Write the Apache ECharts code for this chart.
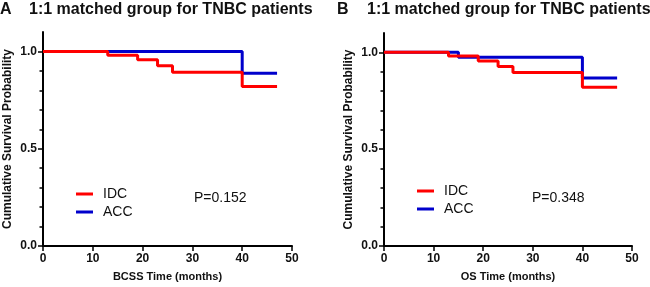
<!DOCTYPE html>
<html>
<head>
<meta charset="utf-8">
<script src="https://cdn.jsdelivr.net/npm/echarts@6/dist/echarts.min.js"></script>
<style>
  html, body { margin: 0; padding: 0; background: #fff; }
  #main { width: 650px; height: 287px; }
</style>
</head>
<body>
<div id="main"></div>
<script>
// KM curves: [months, survival]
var idcBCSS = [[0, 1], [13, 0.981], [19, 0.957], [23, 0.927], [26, 0.893], [40, 0.82], [47, 0.82]];
var accBCSS = [[0, 1], [40, 0.888], [47, 0.888]];
var idcOS = [[0, 1], [13, 0.981], [19, 0.956], [23, 0.927], [26, 0.896], [40, 0.82], [47, 0.82]];
var accOS = [[0, 1], [15, 0.975], [40, 0.868], [47, 0.868]];

var panelLetters = ['A', 'B'];
var panelTitle = '1:1 matched group for TNBC patients';
var xNames = ['BCSS Time (months)', 'OS Time (months)'];
var yName = 'Cumulative Survival Probability';
var pValues = ['P=0.152', 'P=0.348'];
var yMajor = [0, 0.5, 1.0];
var yMinor = [0.1, 0.2, 0.3, 0.4, 0.6, 0.7, 0.8, 0.9];

var myChart = echarts.init(document.getElementById('main'));

var grids = [
    {left: 43, top: 32, width: 249, height: 216},
    {left: 384, top: 33, width: 248, height: 216}
];

var xAxes = [], yAxes = [], series = [];
for (var i = 0; i < 2; i++) {
    xAxes.push({
        type: 'value', gridIndex: i, min: 0, max: 50, interval: 10,
        name: xNames[i], nameLocation: 'middle', nameGap: 25,
        nameTextStyle: {fontFamily: 'Liberation Sans', fontWeight: 'bold', fontSize: 11, color: '#111'},
        axisLine: {lineStyle: {color: '#000', width: 2}},
        axisTick: {length: 5, lineStyle: {color: '#000', width: 1.5}},
        axisLabel: {fontFamily: 'Liberation Sans', fontWeight: 'bold', fontSize: 12, color: '#111', margin: 7},
        splitLine: {show: false}
    });
    // axis line, name and minor ticks
    yAxes.push({
        type: 'value', gridIndex: i, min: 0, max: 1.1, position: 'left',
        name: yName, nameLocation: 'middle', nameGap: 29,
        nameTextStyle: {fontFamily: 'Liberation Sans', fontWeight: 'bold', fontSize: 12, color: '#111'},
        axisLine: {lineStyle: {color: '#000', width: 2}},
        axisTick: {show: true, length: 3.5, customValues: yMinor, lineStyle: {color: '#000', width: 1.5}},
        axisLabel: {show: true, customValues: yMinor, formatter: function () { return ''; }},
        splitLine: {show: false}
    });
    // major ticks + labels
    yAxes.push({
        type: 'value', gridIndex: i, min: 0, max: 1.1, position: 'left',
        axisLine: {show: false},
        axisTick: {length: 5, customValues: yMajor, lineStyle: {color: '#000', width: 1.5}},
        axisLabel: {
            customValues: yMajor, margin: 6,
            fontFamily: 'Liberation Sans', fontWeight: 'bold', fontSize: 12, color: '#111',
            formatter: function (v) { return v.toFixed(1); }
        },
        splitLine: {show: false}
    });
}

var curves = [[accBCSS, idcBCSS], [accOS, idcOS]];
for (var j = 0; j < 2; j++) {
    series.push({
        name: 'ACC', type: 'line', step: 'end', xAxisIndex: j, yAxisIndex: j * 2,
        data: curves[j][0], showSymbol: false, symbol: 'none',
        color: '#0000cc', lineStyle: {width: 3, color: '#0000cc'}
    });
    series.push({
        name: 'IDC', type: 'line', step: 'end', xAxisIndex: j, yAxisIndex: j * 2,
        data: curves[j][1], showSymbol: false, symbol: 'none',
        color: '#ff0000', lineStyle: {width: 3, color: '#ff0000'}
    });
}

var titleFont = {fontFamily: 'Liberation Sans', fontWeight: 'bold', fontSize: 16, color: '#111'};
var pFont = {fontFamily: 'Liberation Sans', fontWeight: 'normal', fontSize: 14, color: '#111'};

option = {
    backgroundColor: '#fff',
    animation: false,
    grid: grids,
    xAxis: xAxes,
    yAxis: yAxes,
    title: [
        {text: panelLetters[0], left: 0, top: 2, padding: 0, textStyle: titleFont},
        {text: panelTitle, left: 29, top: 2, padding: 0, textStyle: titleFont},
        {text: panelLetters[1], left: 337, top: 2, padding: 0, textStyle: titleFont},
        {text: panelTitle, left: 367, top: 2, padding: 0, textStyle: titleFont},
        {text: pValues[0], left: 194, top: 191, padding: 0, textStyle: pFont},
        {text: pValues[1], left: 532, top: 191, padding: 0, textStyle: pFont}
    ],
    legend: [
        {data: ['IDC', 'ACC'], orient: 'vertical', left: 76, top: 186, padding: 0,
         icon: 'rect', itemWidth: 17, itemHeight: 3, itemGap: 2,
         textStyle: {fontFamily: 'Liberation Sans', fontSize: 14, color: '#111', lineHeight: 16, padding: [0, 0, 0, 5]}},
        {data: ['IDC', 'ACC'], orient: 'vertical', left: 417, top: 183, padding: 0,
         icon: 'rect', itemWidth: 17, itemHeight: 3, itemGap: 2,
         textStyle: {fontFamily: 'Liberation Sans', fontSize: 14, color: '#111', lineHeight: 16, padding: [0, 0, 0, 5]}}
    ],
    series: series
};
myChart.setOption(option);
</script>
</body>
</html>
